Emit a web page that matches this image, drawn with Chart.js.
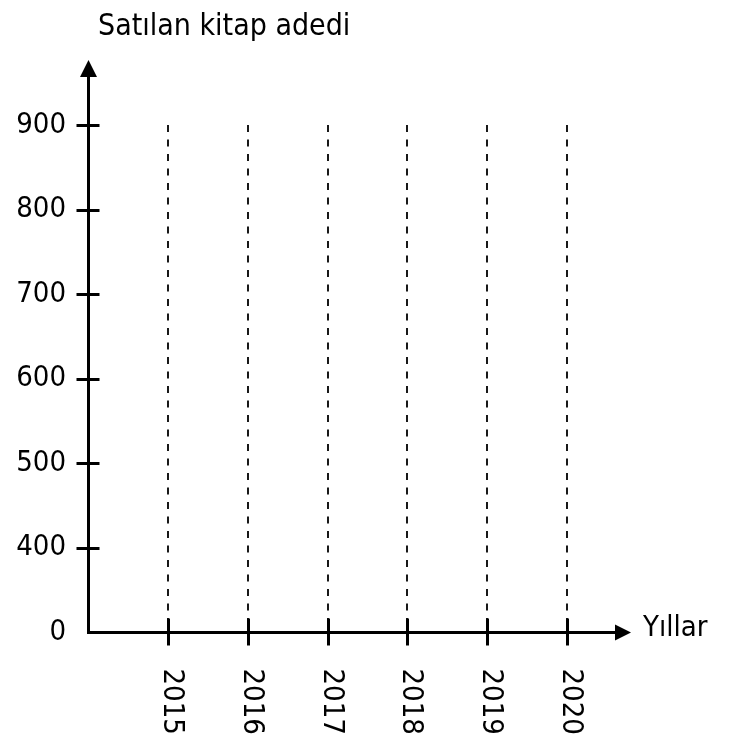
<!DOCTYPE html>
<html>
<head>
<meta charset="utf-8">
<script src="https://cdn.jsdelivr.net/npm/chart.js@4.4.1/dist/chart.umd.min.js"></script>
<style>
    html, body { margin: 0; padding: 0; background: #fff; }
    #wrap { width: 745px; height: 737px; }
</style>
</head>
<body>
<div id="wrap"><canvas id="salesChart"></canvas></div>
<script>
// Chart data
const years = ['2015', '2016', '2017', '2018', '2019', '2020'];
const yLabels = ['0', '400', '500', '600', '700', '800', '900'];
const sales = []; // values are not given in the picture, only the empty grid
const yTitle = 'Satılan kitap adedi';
const xTitle = 'Yıllar';

const FONT = "'DejaVu Sans Condensed', 'DejaVu Sans', sans-serif";
const Y_MAX = 6.77;  // a bit above the last label so the arrow sits over it
const X_MAX = 6.8;

/**
 * Draws the arrowed axes, crossing tick marks, dashed year lines and the titles
 */
const axesPlugin = {
    id: 'axesPlugin',
    afterDraw(chart) {
        const ctx = chart.ctx;
        const xs = chart.scales.x;
        const ys = chart.scales.y;
        const x0 = Math.round(xs.getPixelForValue(0)) + 0.5;
        const y0 = Math.round(ys.getPixelForValue(0)) + 0.5;
        const xEnd = xs.getPixelForValue(X_MAX);
        const yEnd = ys.getPixelForValue(Y_MAX);
        const yTop = ys.getPixelForValue(yLabels.length - 1);

        ctx.save();
        ctx.strokeStyle = '#000';
        ctx.fillStyle = '#000';

        // dashed lines for each year
        ctx.lineWidth = 1.8;
        ctx.setLineDash([7, 7.5]);
        years.forEach((yr, i) => {
            const px = Math.round(xs.getPixelForValue(i + 1));
            ctx.beginPath();
            ctx.moveTo(px, yTop);
            ctx.lineTo(px, y0);
            ctx.stroke();
        });
        ctx.setLineDash([]);

        // axes
        ctx.lineWidth = 3;
        ctx.beginPath();
        ctx.moveTo(x0, yEnd + 14);
        ctx.lineTo(x0, y0);
        ctx.lineTo(xEnd - 14, y0);
        ctx.stroke();

        // arrow heads
        ctx.beginPath();
        ctx.moveTo(x0, yEnd);
        ctx.lineTo(x0 - 8.5, yEnd + 17);
        ctx.lineTo(x0 + 8.5, yEnd + 17);
        ctx.closePath();
        ctx.fill();
        ctx.beginPath();
        ctx.moveTo(xEnd, y0);
        ctx.lineTo(xEnd - 16, y0 - 8);
        ctx.lineTo(xEnd - 16, y0 + 8);
        ctx.closePath();
        ctx.fill();

        // y tick marks crossing the axis
        yLabels.forEach((lbl, i) => {
            if (i === 0) return;
            const py = Math.round(ys.getPixelForValue(i)) + 0.5;
            ctx.beginPath();
            ctx.moveTo(x0 - 12, py);
            ctx.lineTo(x0 + 11, py);
            ctx.stroke();
        });

        // x tick marks and rotated year labels
        ctx.font = '29px ' + FONT;
        years.forEach((yr, i) => {
            const px = Math.round(xs.getPixelForValue(i + 1)) + 0.5;
            ctx.beginPath();
            ctx.moveTo(px, y0 - 14);
            ctx.lineTo(px, y0 + 13);
            ctx.stroke();

            ctx.save();
            ctx.translate(px + 3, y0 + 36);
            ctx.rotate(Math.PI / 2);
            ctx.textAlign = 'left';
            ctx.textBaseline = 'middle';
            ctx.fillText(yr, 0, 0);
            ctx.restore();
        });

        // axis titles
        ctx.textAlign = 'left';
        ctx.textBaseline = 'alphabetic';
        ctx.fillText(xTitle, 643, y0 + 3);
        ctx.font = '30px ' + FONT;
        ctx.fillText(yTitle, 98, 35);

        ctx.restore();
    }
};

Chart.defaults.font.family = FONT;
Chart.defaults.color = '#000';

new Chart(document.getElementById('salesChart'), {
    type: 'scatter',
    data: {
        datasets: [{
            label: yTitle,
            data: sales,
            pointRadius: 0
        }]
    },
    options: {
        responsive: true,
        maintainAspectRatio: false,
        animation: false,
        layout: { padding: { top: 60, right: 114, bottom: 105, left: 0 } },
        plugins: {
            legend: { display: false },
            tooltip: { enabled: false }
        },
        scales: {
            x: {
                type: 'linear',
                min: 0,
                max: X_MAX,
                display: false
            },
            y: {
                type: 'linear',
                min: 0,
                max: Y_MAX,
                afterFit: (scale) => { scale.width = 88; },
                afterBuildTicks: (scale) => {
                    scale.ticks = yLabels.map((_, i) => ({ value: i }));
                },
                ticks: {
                    padding: 22,
                    font: { size: 29 },
                    color: '#000',
                    callback: (v) => yLabels[v]
                },
                grid: { display: false, drawTicks: false },
                border: { display: false }
            }
        }
    },
    plugins: [axesPlugin]
});
</script>
</body>
</html>
